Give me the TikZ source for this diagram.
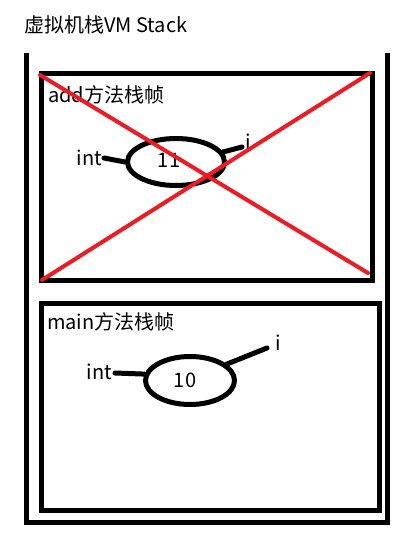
\documentclass[tikz,border=0pt]{standalone}
\usepackage{fontspec}
\setmainfont{Noto Sans CJK SC}
\usetikzlibrary{shapes.geometric}
\definecolor{paintred}{RGB}{237,28,36}
\tikzset{
  px/.style={x=1pt,y=-1pt},
  txt/.style={inner sep=0pt,anchor=base west,font=\fontsize{20}{20}\selectfont},
  frame/.style={draw,line width=5pt,rectangle,inner sep=0pt,line join=miter},
  cell/.style={draw,line width=5pt,ellipse,inner sep=0pt},
  tie/.style={line width=5pt,line cap=round},
  cross/.style={draw=paintred,line width=4pt,line cap=round},
}
\begin{document}
\begin{tikzpicture}[px]
\useasboundingbox (0,0) rectangle (408,545);
\fill[white] (0,0) rectangle (408,545);
% title
\node[txt] (title) at (24,32.5) {虚拟机栈VM Stack};
% outer stack (U shape)
\coordinate (ul) at (26.5,53);
\coordinate (bl) at (26.5,522);
\coordinate (br) at (387.5,522);
\coordinate (ur) at (387.5,53);
\draw[line width=5pt,line join=miter] (ul) -- (bl) -- (br) -- (ur);
% add frame
\node[frame,minimum width=330.5pt,minimum height=207pt] (addf) at (206.75,177) {};
\node[txt] (addl) at (48,102.3) {add方法栈帧};
\node[cell,minimum width=97pt,minimum height=47pt] (e1) at (176,162) {};
\node[inner sep=0pt,font=\fontsize{20}{20}\selectfont] (v1) at (169,160) {11};
\node[txt] (int1) at (76.7,166) {int};
\node[txt] (i1) at (245,150) {i};
\coordinate (t1) at (104,158);
\coordinate (t2) at (242,147);
\draw[tie] (t1) -- (e1.west);
\draw[tie] (t2) -- (e1.12);
% red cross
\coordinate (x1) at (40,75);
\coordinate (x2) at (368,273);
\coordinate (x3) at (42,280);
\coordinate (x4) at (370,73);
\draw[cross] (x1) -- (x2);
\draw[cross] (x3) -- (x4);
% main frame
\node[frame,minimum width=337.5pt,minimum height=207pt] (mainf) at (210.25,407) {};
\node[txt] (mainl) at (47,329.3) {main方法栈帧};
\node[cell,minimum width=89pt,minimum height=48pt] (e2) at (190,380.5) {};
\node[inner sep=0pt,font=\fontsize{20}{20}\selectfont] (v2) at (185,380) {10};
\node[txt] (int2) at (86.7,379.3) {int};
\node[txt] (i2) at (275,350) {i};
\coordinate (t3) at (115,373);
\coordinate (t4) at (267,348);
\draw[tie] (t3) -- (e2.172);
\draw[tie] (t4) -- (e2.24);
\end{tikzpicture}
\end{document}
